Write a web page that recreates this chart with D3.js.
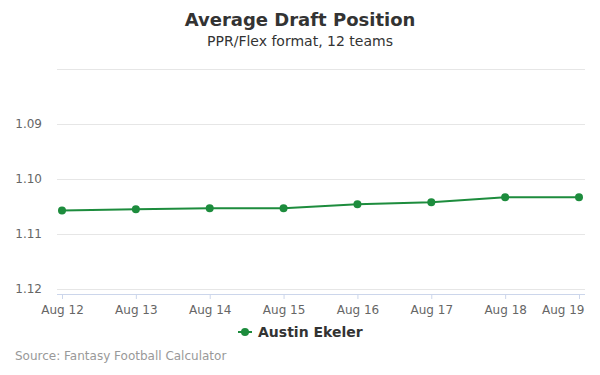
<!DOCTYPE html>
<html>
<head>
<meta charset="utf-8">
<script src="https://cdn.jsdelivr.net/npm/d3@7"></script>
<style>
  body { margin: 0; background: #fff; }
  svg { font-family: "DejaVu Sans", sans-serif; display: block; }
</style>
</head>
<body>
<svg id="chart" width="600" height="375"></svg>
<script>
// ADP per day, reversed y axis (earlier pick on top)
const dates = ['Aug 12', 'Aug 13', 'Aug 14', 'Aug 15', 'Aug 16', 'Aug 17', 'Aug 18', 'Aug 19'];
const adp = [1.1058, 1.1056, 1.1054, 1.1054, 1.1047, 1.1043, 1.1034, 1.1034];
const yTicks = [1.08, 1.09, 1.10, 1.11, 1.12];
const seriesName = 'Austin Ekeler';

const width = 600, height = 375;
const plot = { left: 57, right: 585, top: 68.5, bottom: 294 };
const green = '#1d8c3d';

const svg = d3.select('#chart');

// title + subtitle
svg.append('text')
  .attr('x', width / 2).attr('y', 26)
  .attr('text-anchor', 'middle')
  .attr('font-size', 18).attr('font-weight', 'bold')
  .attr('fill', '#333')
  .text('Average Draft Position');
svg.append('text')
  .attr('x', width / 2).attr('y', 46)
  .attr('text-anchor', 'middle')
  .attr('font-size', 14).attr('fill', '#333')
  .text('PPR/Flex format, 12 teams');

const x = d3.scalePoint()
  .domain(dates)
  .range([62, 579]);

const y = d3.scaleLinear()
  .domain([1.08, 1.12])
  .range([plot.top, 288.5]);

// gridlines
svg.append('g')
  .selectAll('line')
  .data(yTicks)
  .join('line')
  .attr('x1', plot.left).attr('x2', plot.right)
  .attr('y1', d => Math.round(y(d)) + 0.5)
  .attr('y2', d => Math.round(y(d)) + 0.5)
  .attr('stroke', '#e6e6e6').attr('stroke-width', 1);

// y labels (top one hidden like the original)
svg.append('g')
  .selectAll('text')
  .data(yTicks.slice(1))
  .join('text')
  .attr('x', 42)
  .attr('y', d => y(d) + 4)
  .attr('text-anchor', 'end')
  .attr('font-size', 12).attr('fill', '#666')
  .text(d => d.toFixed(2));

// x axis
const xAxis = d3.axisBottom(x).tickSize(5).tickPadding(6);
const gx = svg.append('g')
  .attr('transform', `translate(0,${plot.bottom})`)
  .call(xAxis);
gx.select('.domain')
  .attr('d', `M${plot.left},0.5H${plot.right}`)
  .attr('stroke', '#ccd6eb');
gx.selectAll('.tick line').attr('stroke', '#ccd6eb');
gx.selectAll('.tick text')
  .attr('font-size', 12).attr('fill', '#666')
  .attr('font-family', '"DejaVu Sans", sans-serif');
// keep the last label inside the chart edge
gx.selectAll('.tick text')
  .filter(d => d === dates[dates.length - 1])
  .attr('text-anchor', 'end')
  .attr('x', plot.right - x(dates[dates.length - 1]) - 1);

// series line
const line = d3.line()
  .x((d, i) => x(dates[i]))
  .y(d => y(d));

svg.append('path')
  .datum(adp)
  .attr('d', line)
  .attr('fill', 'none')
  .attr('stroke', green)
  .attr('stroke-width', 2);

svg.append('g')
  .selectAll('circle')
  .data(adp)
  .join('circle')
  .attr('cx', (d, i) => x(dates[i]))
  .attr('cy', d => y(d))
  .attr('r', 4)
  .attr('fill', green);

// legend
const lg = svg.append('g').attr('transform', 'translate(238,332)');
lg.append('line')
  .attr('x1', 0).attr('x2', 14)
  .attr('stroke', green).attr('stroke-width', 2);
lg.append('circle')
  .attr('cx', 7).attr('r', 4).attr('fill', green);
lg.append('text')
  .attr('x', 20).attr('y', 5)
  .attr('font-size', 14).attr('font-weight', 'bold')
  .attr('fill', '#333')
  .text(seriesName);

// credits
svg.append('text')
  .attr('x', 15).attr('y', 360)
  .attr('font-size', 12).attr('fill', '#999')
  .text('Source: Fantasy Football Calculator');
</script>
</body>
</html>
